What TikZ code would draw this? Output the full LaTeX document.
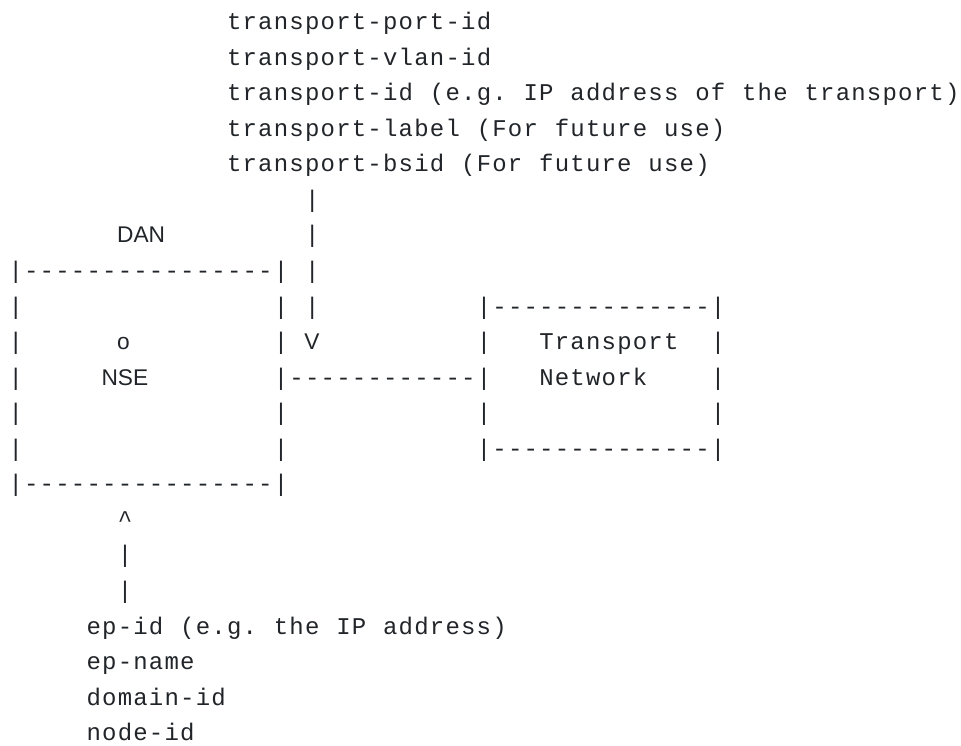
\documentclass[tikz,border=0pt]{standalone}
\usepackage{fontspec}
\newfontfamily\monofont{Liberation Mono}
\newfontfamily\titlefont{Liberation Sans}
\definecolor{ink}{RGB}{33,37,41}
\newlength\cellw
\setlength\cellw{15.61pt}
% typeset a run of characters on a fixed character grid
\ExplSyntaxOn
\NewDocumentCommand\asciirun{m}
  {
    \fontsize{24}{28}\monofont
    \str_map_inline:nn {#1} { \makebox[\cellw][c]{##1} }
  }
\ExplSyntaxOff
\tikzset{
  asciitext/.style={anchor=base west, inner sep=0pt, outer sep=0pt, text=ink},
  boxtitle/.style={anchor=base west, inner sep=0pt, outer sep=0pt, text=ink,
                   font=\fontsize{22.7}{26}\titlefont},
}
\begin{document}
\begin{tikzpicture}
\useasboundingbox (0pt,0pt) rectangle (961pt,-746pt);
% grid: x = column (left edge of the cell), y = text row (baseline)
\begin{scope}[shift={(7.9pt,-29.7pt)}, x=15.61pt, y=-35.55pt]
  % transport attributes
  \node[asciitext] (tpport)  at (14,0) {\asciirun{transport-port-id}};
  \node[asciitext] (tpvlan)  at (14,1) {\asciirun{transport-vlan-id}};
  \node[asciitext] (tpid)    at (14,2) {\asciirun{transport-id (e.g. IP address of the transport)}};
  \node[asciitext] (tplabel) at (14,3) {\asciirun{transport-label (For future use)}};
  \node[asciitext] (tpbsid)  at (14,4) {\asciirun{transport-bsid (For future use)}};
  % down arrow from the attributes
  \node[asciitext] (ar5) at (19,5) {\asciirun{|}};
  \node[asciitext] (ar6) at (19,6) {\asciirun{|}};
  \node[asciitext] (ar7) at (19,7) {\asciirun{|}};
  \node[asciitext] (ar8) at (19,8) {\asciirun{|}};
  \node[boxtitle]  (arV) at (19,9) {V};
  % DAN box
  \node[boxtitle]  (dan)    at (7,6)  {DAN};
  \node[asciitext] (dantop) at (0,7)  {\asciirun{|----------------|}};
  \node[asciitext] (dl8)    at (0,8)  {\asciirun{|}};
  \node[asciitext] (dr8)    at (17,8) {\asciirun{|}};
  \node[asciitext] (dl9)    at (0,9)  {\asciirun{|}};
  \node[boxtitle]  (nsedot) at (7,9)  {o};
  \node[asciitext] (dr9)    at (17,9) {\asciirun{|}};
  \node[asciitext] (dl10)   at (0,10) {\asciirun{|}};
  \node[boxtitle]  (nse)    at (6,10) {NSE};
  \node[asciitext] (link)   at (17,10) {\asciirun{|------------|}};
  \node[asciitext] (dl11)   at (0,11) {\asciirun{|}};
  \node[asciitext] (dr11)   at (17,11) {\asciirun{|}};
  \node[asciitext] (dl12)   at (0,12) {\asciirun{|}};
  \node[asciitext] (dr12)   at (17,12) {\asciirun{|}};
  \node[asciitext] (danbot) at (0,13) {\asciirun{|----------------|}};
  % Transport Network box
  \node[asciitext] (tntop) at (30,8)  {\asciirun{|--------------|}};
  \node[asciitext] (tl9)   at (30,9)  {\asciirun{|}};
  \node[asciitext] (tn1)   at (34,9)  {\asciirun{Transport}};
  \node[asciitext] (tr9)   at (45,9)  {\asciirun{|}};
  \node[asciitext] (tn2)   at (34,10) {\asciirun{Network}};
  \node[asciitext] (tr10)  at (45,10) {\asciirun{|}};
  \node[asciitext] (tl11)  at (30,11) {\asciirun{|}};
  \node[asciitext] (tr11)  at (45,11) {\asciirun{|}};
  \node[asciitext] (tnbot) at (30,12) {\asciirun{|--------------|}};
  % up arrow to the NSE
  \node[asciitext] (up14) at (7,14) {\asciirun{^}};
  \node[asciitext] (up15) at (7,15) {\asciirun{|}};
  \node[asciitext] (up16) at (7,16) {\asciirun{|}};
  % endpoint attributes
  \node[asciitext] (epid)   at (5,17) {\asciirun{ep-id (e.g. the IP address)}};
  \node[asciitext] (epname) at (5,18) {\asciirun{ep-name}};
  \node[asciitext] (domid)  at (5,19) {\asciirun{domain-id}};
  \node[asciitext] (nodeid) at (5,20) {\asciirun{node-id}};
\end{scope}
\end{tikzpicture}
\end{document}
